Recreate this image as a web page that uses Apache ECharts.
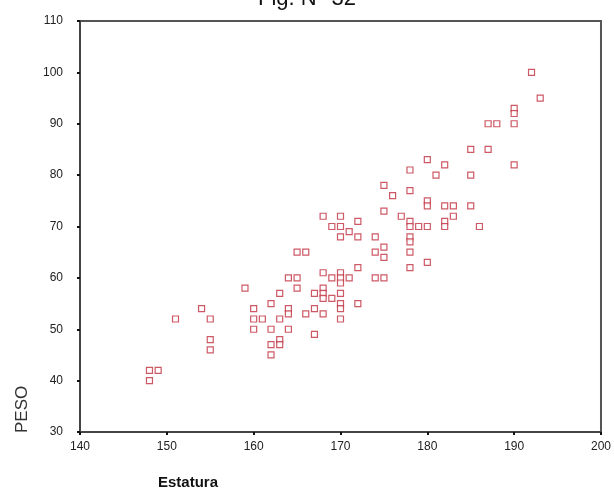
<!DOCTYPE html>
<html>
<head>
<meta charset="utf-8">
<script src="https://cdn.jsdelivr.net/npm/echarts@6/dist/echarts.min.js"></script>
<style>
html,body{margin:0;padding:0;background:#fff;}
#c{width:614px;height:492px;}
</style>
</head>
<body>
<div id="c"></div>
<script>
var estatura = [148,149,148,151,154,155,155,155,159,160,160,160,161,162,162,162,162,163,163,163,163,164,164,164,164,165,165,165,166,166,167,167,167,168,168,168,168,168,168,169,169,169,170,170,170,170,170,170,170,170,170,170,171,171,172,172,172,172,174,174,174,175,175,175,175,175,176,177,178,178,178,178,178,178,178,178,179,180,180,180,180,180,181,182,182,182,182,183,183,185,185,185,186,187,188,187,190,190,190,190,192,193];
var peso     = [42,42,40,52,54,52,48,46,58,54,52,50,52,55,50,47,45,57,52,48,47,60,54,53,50,65,60,58,65,53,57,54,49,72,61,58,57,56,53,70,60,56,72,70,68,61,60,59,57,55,54,52,69,60,71,68,62,55,68,65,60,78,73,66,64,60,76,72,81,77,71,70,68,67,65,62,70,83,75,74,70,63,80,82,74,71,70,74,72,85,80,74,70,90,90,85,93,92,90,82,100,95];
var xTicks = [140,150,160,170,180,190,200];
var yTicks = [30,40,50,60,70,80,90,100,110];
var titleText = 'Fig. N° 32';
var xName = 'Estatura';
var yName = 'PESO';

var pts = estatura.map(function(v,i){return [v, peso[i]];});
var chart = echarts.init(document.getElementById('c'));
chart.setOption({
  animation:false,
  backgroundColor:'#fff',
  title:{text:titleText,left:'center',top:-17,textStyle:{fontFamily:'Liberation Sans, Arial',fontSize:22,fontWeight:'normal',color:'#111'}},
  grid:{left:80,right:10,top:21,bottom:60,show:true,borderColor:'#555',borderWidth:2,backgroundColor:'transparent'},
  xAxis:{type:'value',min:xTicks[0],max:xTicks[xTicks.length-1],interval:10,
    axisLine:{show:true,lineStyle:{color:'#444',width:2}},
    axisTick:{show:true,length:3,lineStyle:{color:'#111',width:2}},
    axisLabel:{margin:9,color:'#222',fontFamily:'Liberation Sans, Arial',fontSize:12},
    splitLine:{show:false}},
  yAxis:{type:'value',min:yTicks[0],max:yTicks[yTicks.length-1],interval:10,
    axisLine:{show:true,lineStyle:{color:'#444',width:2}},
    axisTick:{show:true,length:3,lineStyle:{color:'#111',width:2}},
    axisLabel:{margin:17,color:'#222',fontFamily:'Liberation Sans, Arial',fontSize:12},
    splitLine:{show:false}},
  graphic:[
    {type:'text',left:158,top:475,style:{text:xName,font:'bold 15px "Liberation Sans", Arial',fill:'#111'}},
    {type:'text',x:14,y:433,rotation:Math.PI/2,style:{text:yName,font:'17px "Liberation Sans", Arial',fill:'#333'}}
  ],
  series:[{type:'scatter',data:pts,symbol:'rect',symbolSize:6,
    itemStyle:{color:'#fff',borderColor:'#c03040',borderWidth:1.2}}]
});
</script>
</body>
</html>
